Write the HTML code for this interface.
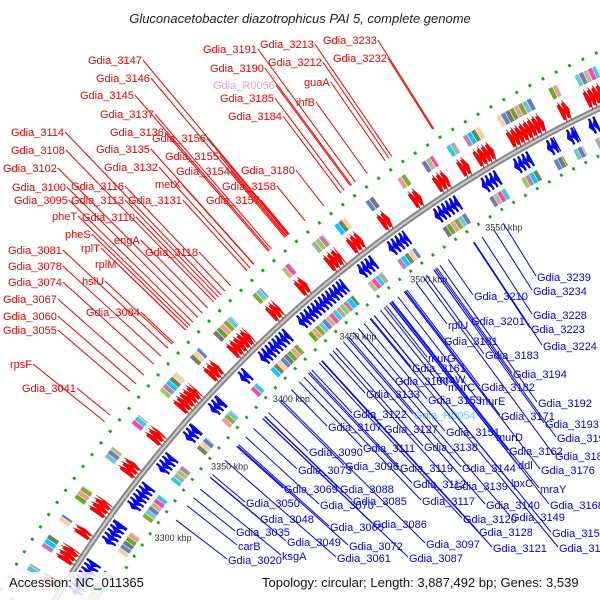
<!DOCTYPE html>
<html><head><meta charset="utf-8"><style>
html,body{margin:0;background:#fff;overflow:hidden;width:600px;height:600px}
svg{display:block;font-family:"Liberation Sans",sans-serif;overflow:hidden}
</style></head><body>
<svg id="map" width="600" height="600" viewBox="0 0 600 600">
<g id="feat"></g>
<g id="lbl"></g>
<text x="300" y="23" text-anchor="middle" font-size="13" font-style="italic" fill="#222">Gluconacetobacter diazotrophicus PAI 5, complete genome</text>
<rect x="0" y="572" width="600" height="28" fill="#fff" opacity="0.85"/>
<text x="9" y="587" font-size="13" fill="#111">Accession: NC_011365</text>
<text x="262" y="587" font-size="13" fill="#111">Topology: circular; Length: 3,887,492 bp; Genes: 3,539</text>
</svg>
<script>
const fwdClusters=[[3195,3215],[3225,3232],[3248,3252],[3262,3270],[3278,3282],[3292,3300],[3318,3325],[3340,3346],[3362,3375],[3385,3392],[3402,3415],[3430,3436],[3450,3455],[3470,3478],[3485,3492],[3505,3510],[3525,3530],[3540,3547],[3555,3560],[3565,3575],[3585,3605],[3615,3620],[3630,3642],[3655,3665],[3670,3676]];
const revClusters=[[3250,3270],[3282,3295],[3305,3320],[3330,3340],[3352,3360],[3372,3380],[3395,3400],[3410,3430],[3438,3470],[3480,3490],[3500,3512],[3530,3545],[3560,3570],[3580,3590],[3600,3606],[3612,3618],[3625,3630]];
const cogColors=['#e99','#8a3','#6cc','#77b','#bb8','#f4a','#3cd','#aaa','#9c6','#c7a','#0cf','#686','#fc9','#58c','#777','#6a2'];
const tickKbp=[3300,3350,3400,3450,3500,3550];
const redLabels=[["Gdia_3233",323,44],["Gdia_3213",260,48],["Gdia_3191",203,53],["Gdia_3232",333,62],["Gdia_3212",268,66],["Gdia_3190",210,72],["Gdia_R0056",213,89],["guaA",304,86],["Gdia_3185",220,102],["ihfB",296,106],["Gdia_3184",228,120],["Gdia_3147",88,64],["Gdia_3146",96,82],["Gdia_3145",80,99],["Gdia_3137",100,118],["Gdia_3136",110,136],["Gdia_3114",11,136],["Gdia_3156",152,142],["Gdia_3135",96,153],["Gdia_3108",11,154],["Gdia_3155",165,160],["Gdia_3132",104,171],["Gdia_3154",176,175],["Gdia_3102",3,172],["Gdia_3180",241,174],["metX",155,188],["Gdia_3158",222,190],["Gdia_3100",12,191],["Gdia_3116",71,190],["Gdia_3095",14,204],["Gdia_3113",71,204],["Gdia_3131",128,204],["Gdia_3157",206,204],["pheT",52,220],["Gdia_3110",82,221],["pheS",65,238],["engA",114,244],["Gdia_3081",8,254],["rplT",81,252],["Gdia_3118",145,256],["Gdia_3078",8,270],["rplM",95,268],["Gdia_3074",8,286],["hslU",82,285],["Gdia_3067",3,303],["Gdia_3084",86,316],["Gdia_3060",3,320],["Gdia_3055",3,334],["rpsF",10,368],["Gdia_3041",22,392]];
const blueLabels=[["Gdia_3239",537,281],["Gdia_3234",533,295],["Gdia_3210",474,300],["Gdia_3228",533,319],["Gdia_3201",471,325],["Gdia_3223",531,333],["rplU",448,329],["Gdia_3224",543,350],["Gdia_3181",444,345],["Gdia_3183",485,359],["murG",428,362],["Gdia_3161",412,372],["Gdia_3194",513,378],["mraW",436,383],["Gdia_3150",395,385],["Gdia_3182",481,391],["murC",448,391],["Gdia_3133",366,398],["Gdia_3153",428,404],["murE",479,405],["Gdia_3192",538,407],["Gdia_R0054",414,419],["Gdia_3122",353,418],["Gdia_3171",501,420],["Gdia_3107",328,431],["Gdia_3127",384,433],["Gdia_3151",446,436],["Gdia_3193",545,428],["murD",496,441],["Gdia_3195",557,442],["Gdia_3138",424,451],["Gdia_3111",363,452],["Gdia_3090",309,456],["Gdia_3162",509,455],["Gdia_3186",555,460],["Gdia_3096",345,470],["Gdia_3119",400,472],["Gdia_3144",462,472],["ddl",518,469],["Gdia_3176",541,474],["Gdia_3073",298,474],["lpxC",511,487],["Gdia_3139",454,490],["Gdia_3112",413,488],["mraY",540,493],["Gdia_3069",284,493],["Gdia_3088",340,493],["Gdia_3070",320,509],["Gdia_3085",353,505],["Gdia_3117",422,505],["Gdia_3140",486,509],["Gdia_3168",550,509],["Gdia_3050",246,507],["Gdia_3048",260,523],["Gdia_3065",330,531],["Gdia_3086",373,528],["Gdia_3120",463,523],["Gdia_3149",511,521],["Gdia_3035",236,536],["Gdia_3128",479,536],["Gdia_3159",552,537],["Gdia_3049",287,546],["Gdia_3072",349,550],["Gdia_3097",426,548],["carB",238,550],["Gdia_3121",493,552],["Gdia_3148",559,552],["ksgA",282,560],["Gdia_3061",337,562],["Gdia_3087",409,562],["Gdia_3020",228,564]];

const NS='http://www.w3.org/2000/svg';
const CX=1147,CY=1262,R=1277,GENE=2.5;
function ang(k){return (224.66+(k-3400)*0.0851)*Math.PI/180;}
function pt(k,r){const a=ang(k);return [CX+r*Math.cos(a),CY+r*Math.sin(a)];}
const feat=document.getElementById('feat'),lbl=document.getElementById('lbl');
function mk(tag,attrs,parent){const e=document.createElementNS(NS,tag);for(const k in attrs)e.setAttribute(k,attrs[k]);parent.appendChild(e);return e;}
function arc(k0,k1,r1,r2){const n=3;let p=[];for(let i=0;i<=n;i++)p.push(pt(k0+(k1-k0)*i/n,r2));for(let i=n;i>=0;i--)p.push(pt(k0+(k1-k0)*i/n,r1));return p.map(q=>q.join(',')).join(' ');}
function arrow(k0,k1,r1,r2,fwd){const h=Math.min((k1-k0)*0.6,1.6);let p;
 if(fwd)p=[pt(k0,r1),pt(k1-h,r1),pt(k1-h,r1-3),pt(k1,(r1+r2)/2),pt(k1-h,r2+3),pt(k1-h,r2),pt(k0,r2)];
 else p=[pt(k1,r1),pt(k0+h,r1),pt(k0+h,r1-3),pt(k0,(r1+r2)/2),pt(k0+h,r2+3),pt(k0+h,r2),pt(k1,r2)];
 return p.map(q=>q.join(',')).join(' ');}
let bb=[];for(let k=3150;k<=3720;k+=5)bb.push(pt(k,R).join(','));
let e=mk('polyline',{points:bb.join(' '),fill:'none',stroke:'#888','stroke-width':6},feat);

e=mk('polyline',{points:bb.join(' '),fill:'none',stroke:'#ccc','stroke-width':2},feat);

for(let k=3150;k<=3720;k+=7.5){
 e=mk('polygon',{points:arc(k-0.7,k+0.7,R+50,R+53),fill:'#1a1'},feat);
 
 e=mk('polygon',{points:arc(k-0.7,k+0.7,R-41,R-44),fill:'#1a1'},feat);
 
}
fwdClusters.forEach((c,ci)=>{
 let gi=0;
 for(let k=c[0];k<c[1];k+=GENE,gi++){const k1=Math.min(k+GENE,c[1]);
  e=mk('polygon',{points:arrow(k,k1,R+5,R+21,true),fill:'#f00',stroke:'#c00','stroke-width':0.5},feat);
  
  e=mk('polygon',{points:arc(k,k1-0.3,R+28,R+40),fill:cogColors[(ci*3+gi)%cogColors.length]},feat);
  }
});
revClusters.forEach((c,ci)=>{
 let gi=0;
 for(let k=c[0];k<c[1];k+=GENE,gi++){const k1=Math.min(k+GENE,c[1]);
  e=mk('polygon',{points:arrow(k,k1,R-5,R-21,false),fill:'#00f',stroke:'#00b','stroke-width':0.5},feat);
  
  e=mk('polygon',{points:arc(k,k1-0.3,R-26,R-37),fill:cogColors[(ci*5+gi+7)%cogColors.length]},feat);
  }
});
tickKbp.forEach(k=>{const p=pt(k,R-48);
 e=mk('text',{x:p[0],y:p[1]+4,'font-size':9,fill:'#333'},feat);e.textContent=k+' kbp';
 });
function target(x,y,r){const dx=CX-x,dy=CY-y,d=Math.hypot(dx,dy);const t=(d-r)/d;return [x+dx*t,y+dy*t];}
redLabels.forEach(l=>{
 const t=mk('text',{x:l[1],y:l[2],'font-size':11,fill:l[0]==='Gdia_R0056'?'#f9c':'#e00'},lbl);t.textContent=l[0];
 
 const w=t.getComputedTextLength();const ax=l[1]+w+1,ay=l[2]-4;const q=target(ax,ay,R+62);
 const ln=mk('line',{x1:ax,y1:ay,x2:q[0],y2:q[1],stroke:'#f00','stroke-width':1},lbl);
 
});
blueLabels.forEach(l=>{
 const t=mk('text',{x:l[1],y:l[2],'font-size':11,fill:l[0]==='Gdia_R0054'?'#6cf':'#00e'},lbl);t.textContent=l[0];
 
 const ax=l[1]-1,ay=l[2]-5;const q=target(ax,ay,R-55);
 const ln=mk('line',{x1:ax,y1:ay,x2:q[0],y2:q[1],stroke:'#00f','stroke-width':1},lbl);
 
});
</script>
</body></html>
